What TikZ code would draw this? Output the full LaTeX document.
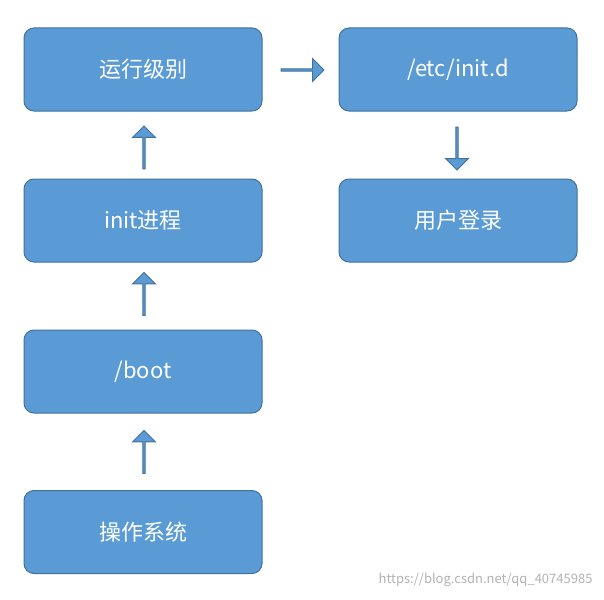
\documentclass[tikz,border=0pt]{standalone}
\usepackage{fontspec}
\setmainfont{Noto Sans CJK SC}
\usetikzlibrary{shapes.arrows}
\definecolor{boxfill}{HTML}{5B9BD5}
\definecolor{boxline}{HTML}{41719C}
\tikzset{
  x=1pt,y=-1pt,
  stepbox/.style={draw=boxline,line width=1pt,fill=boxfill,rounded corners=10pt,minimum width=238pt,minimum height=83pt,text=white,font=\fontsize{22}{26}\selectfont,inner sep=0pt},
  blockarrow/.style={single arrow,draw=boxline,line width=1pt,fill=boxfill,minimum height=43pt,minimum width=23pt,single arrow head extend=5pt,inner sep=0pt,anchor=center}
}
\begin{document}
\begin{tikzpicture}
\useasboundingbox (0,0) rectangle (604,599);
\node[stepbox] (a) at (143,69.5) {运行级别};
\node[stepbox] (b) at (143,220.5) {init进程};
\node[stepbox] (c) at (143,371.5) {/boot};
\node[stepbox] (d) at (143,532) {操作系统};
\node[stepbox] (e) at (458,69.5) {/etc/init.d};
\node[stepbox] (f) at (458,220.5) {用户登录};
\node[blockarrow,shape border rotate=90] (u1) at (144,148) {};
\node[blockarrow,shape border rotate=90] (u2) at (144,294.5) {};
\node[blockarrow,shape border rotate=90] (u3) at (144,452.5) {};
\node[blockarrow] (r1) at (302,70) {};
\node[blockarrow,shape border rotate=270] (d1) at (457,148) {};
\node[text=gray!60,font=\fontsize{13}{15}\selectfont,anchor=east] (w) at (596,580) {https://blog.csdn.net/qq\_40745985};
\end{tikzpicture}
\end{document}
